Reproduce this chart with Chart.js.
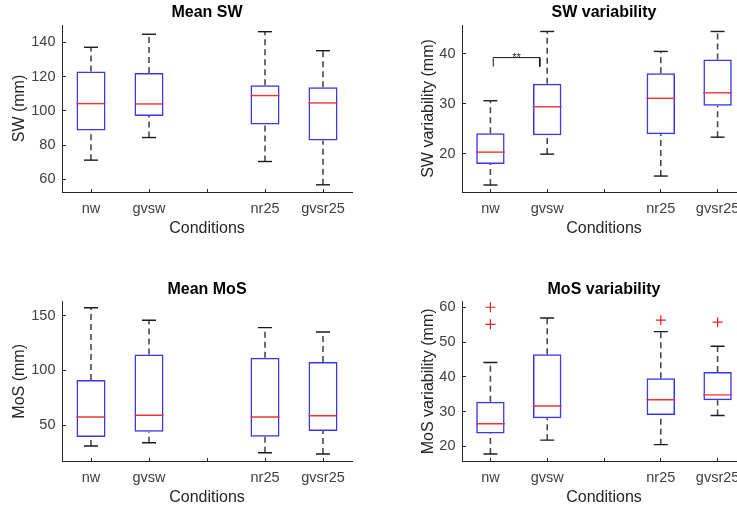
<!DOCTYPE html>
<html>
<head>
<title>Boxplots</title>
<style>
  html, body { margin: 0; padding: 0; background: #fff; overflow: hidden; width: 737px; height: 510px; }
  canvas { position: absolute; }
</style>
</head>
<body>
<canvas id="c1" width="365" height="250" style="left:0px;top:0px"></canvas>
<canvas id="c2" width="357" height="250" style="left:400px;top:0px"></canvas>
<canvas id="c3" width="365" height="260" style="left:0px;top:255px"></canvas>
<canvas id="c4" width="357" height="260" style="left:400px;top:255px"></canvas>

<script src="https://cdn.jsdelivr.net/npm/chart.js@4/dist/chart.umd.min.js"></script>
<script>
// x categories (3rd slot is an empty gap) and where the boxes sit
var conditions = ['nw', 'gvsw', '', 'nr25', 'gvsr25'];
var tickPos = [1, 2, 3, 4, 5];
var boxPos = [1, 2, 4, 5];

// Mean SW
var swMeanLow  = [71.2, 84.4, 70.4, 56.8];
var swMeanQ1   = [88.5, 96.9, 92.0, 82.6];
var swMeanMed  = [104.2, 104.0, 108.9, 104.6];
var swMeanQ3   = [122.9, 122.1, 114.9, 113.8];
var swMeanHigh = [137.1, 144.7, 146.2, 135.1];
var swMeanTicks = [60, 80, 100, 120, 140];

// SW variability
var swVarLow  = [13.7, 19.9, 15.5, 23.3];
var swVarQ1   = [17.9, 23.7, 23.9, 29.6];
var swVarMed  = [20.3, 29.4, 31.1, 32.2];
var swVarQ3   = [24.1, 34.0, 36.1, 38.9];
var swVarHigh = [30.6, 44.5, 40.5, 44.5];
var swVarTicks = [20, 30, 40];
var sigX = [1.05, 1.87];
var sigY = [37.45, 39.26];
var sigText = '**';

// Mean MoS
var mosMeanLow  = [30.8, 33.8, 24.7, 23.5];
var mosMeanQ1   = [39.0, 43.9, 39.3, 44.5];
var mosMeanMed  = [57.3, 58.9, 57.3, 58.5];
var mosMeanQ3   = [91.2, 114.4, 111.6, 107.7];
var mosMeanHigh = [157.3, 145.8, 139.1, 135.1];
var mosMeanTicks = [50, 100, 150];

// MoS variability
var mosVarLow  = [17.8, 21.8, 20.5, 28.9];
var mosVarQ1   = [23.7, 28.1, 29.0, 33.3];
var mosVarMed  = [26.5, 31.6, 33.4, 34.8];
var mosVarQ3   = [32.8, 46.5, 39.6, 41.4];
var mosVarHigh = [44.1, 56.9, 53.0, 48.8];
var mosVarOutX = [1, 1, 4, 5];
var mosVarOutY = [60.0, 55.1, 56.3, 55.7];
var mosVarTicks = [20, 30, 40, 50, 60];

Chart.defaults.font.family = '"Liberation Sans", Arial, sans-serif';

var axisColor = '#262626';
var textColor = '#404040';

// draws the "**" over the significance bracket
var sigLabel = {
    id: 'sigLabel',
    afterDatasetsDraw: function(chart, args, opts) {
        if (!opts.text) return;
        var ctx = chart.ctx;
        var x = chart.scales.x.getPixelForValue((opts.x[0] + opts.x[1]) / 2);
        var y = chart.scales.y.getPixelForValue(opts.y[1]);
        ctx.save();
        ctx.font = '11px "Liberation Sans", Arial, sans-serif';
        ctx.fillStyle = '#222';
        ctx.textAlign = 'center';
        ctx.textBaseline = 'alphabetic';
        ctx.fillText(opts.text, x, y + 3);
        ctx.restore();
    }
};

function boxChart(id, s) {
    var boxes = [], meds = [], caps = [], whiskers = [];
    for (var i = 0; i < boxPos.length; i++) {
        var p = boxPos[i];
        boxes.push({x: p, y: [s.q1[i], s.q3[i]]});
        meds.push({x: p, y: s.med[i]});
        caps.push({x: p, y: s.high[i]});
        caps.push({x: p, y: s.low[i]});
        whiskers.push({x: p, y: s.q3[i]}, {x: p, y: s.high[i]}, {x: p, y: null});
        whiskers.push({x: p, y: s.low[i]}, {x: p, y: s.q1[i]}, {x: p, y: null});
    }

    var datasets = [
        {type: 'scatter', data: meds, pointStyle: 'line', pointRadius: 14.5,
         borderColor: 'rgb(240,50,50)', borderWidth: 1.4, order: 1},
        {type: 'bar', data: boxes, backgroundColor: 'rgba(255,255,255,0)',
         borderColor: 'rgb(55,55,235)', borderWidth: 1.5, borderSkipped: false,
         barPercentage: 0.5, categoryPercentage: 1, order: 2},
        {type: 'scatter', data: caps, pointStyle: 'line', pointRadius: 7,
         borderColor: '#1a1a1a', borderWidth: 1.4, order: 3},
        {type: 'line', data: whiskers, borderColor: '#4a4a4a', borderWidth: 1.6,
         borderDash: [6, 4], pointRadius: 0, spanGaps: false, fill: false, order: 4}
    ];

    if (s.outX) {
        var outs = s.outX.map(function(x, i) { return {x: x, y: s.outY[i]}; });
        datasets.push({type: 'scatter', data: outs, pointStyle: 'cross', pointRadius: 5,
            borderColor: 'rgb(235,30,30)', borderWidth: 1.2, order: 0});
    }
    if (s.sigX) {
        datasets.push({type: 'line', order: 0, borderColor: '#111', borderWidth: 1, pointRadius: 0,
            data: [{x: s.sigX[0], y: s.sigY[0]}, {x: s.sigX[0], y: s.sigY[1]},
                   {x: s.sigX[1], y: s.sigY[1]}, {x: s.sigX[1], y: s.sigY[0]}]});
    }

    return new Chart(document.getElementById(id), {
        type: 'bar',
        data: {datasets: datasets},
        plugins: [sigLabel],
        options: {
            responsive: false,
            animation: false,
            events: [],
            layout: {autoPadding: false, padding: {left: 0, top: 0, right: s.padRight, bottom: s.padBottom}},
            plugins: {
                legend: {display: false},
                tooltip: {enabled: false},
                title: {
                    display: true, text: s.title, fullSize: false, color: '#000',
                    font: {size: 16, weight: 'bold'},
                    padding: {top: s.titleTop, bottom: 2.8}
                },
                sigLabel: {text: s.sigText, x: s.sigX, y: s.sigY}
            },
            scales: {
                x: {
                    type: 'linear', min: 0.5, max: 5.5, offset: false,
                    afterBuildTicks: function(sc) { sc.ticks = tickPos.map(function(v) { return {value: v}; }); },
                    afterFit: function(sc) { sc.height = 50; sc.paddingLeft = 0; sc.paddingRight = 0; },
                    ticks: {
                        callback: function(v, i) { return conditions[i]; },
                        font: {size: 14.5}, color: textColor, padding: 11.3,
                        maxRotation: 0, autoSkip: false
                    },
                    grid: {display: true, drawOnChartArea: false, offset: false, tickLength: -3, color: axisColor},
                    border: {display: true, color: axisColor, width: 1},
                    title: {display: true, text: 'Conditions', color: axisColor,
                            font: {size: 16}, padding: {top: 0, bottom: 3.4}}
                },
                y: {
                    min: s.yMin, max: s.yMax, beginAtZero: false,
                    afterBuildTicks: function(sc) { sc.ticks = s.yTicks.map(function(v) { return {value: v}; }); },
                    afterFit: function(sc) { sc.width = 62; sc.paddingTop = 0; sc.paddingBottom = 0; },
                    ticks: {font: {size: 14.5}, color: textColor, padding: 10.5},
                    grid: {display: true, drawOnChartArea: false, tickLength: -4, color: axisColor},
                    border: {display: true, color: axisColor, width: 1},
                    title: {display: true, text: s.yLabel, color: axisColor,
                            font: {size: 16}, padding: {top: s.yTitlePad, bottom: 0}}
                }
            }
        }
    });
}

boxChart('c1', {
    title: 'Mean SW', yLabel: 'SW (mm)', yMin: 52.6, yMax: 150.1, yTicks: swMeanTicks,
    low: swMeanLow, q1: swMeanQ1, med: swMeanMed, q3: swMeanQ3, high: swMeanHigh,
    padRight: 13, padBottom: 8, titleTop: 3, yTitlePad: 10.4
});
boxChart('c2', {
    title: 'SW variability', yLabel: 'SW variability (mm)', yMin: 12.3, yMax: 45.8, yTicks: swVarTicks,
    low: swVarLow, q1: swVarQ1, med: swVarMed, q3: swVarQ3, high: swVarHigh,
    sigX: sigX, sigY: sigY, sigText: sigText,
    padRight: 11, padBottom: 8, titleTop: 3, yTitlePad: 19.4
});
boxChart('c3', {
    title: 'Mean MoS', yLabel: 'MoS (mm)', yMin: 17.1, yMax: 162.8, yTicks: mosMeanTicks,
    low: mosMeanLow, q1: mosMeanQ1, med: mosMeanMed, q3: mosMeanQ3, high: mosMeanHigh,
    padRight: 13, padBottom: 4, titleTop: 24.7, yTitlePad: 10.4
});
boxChart('c4', {
    title: 'MoS variability', yLabel: 'MoS variability (mm)', yMin: 15.8, yMax: 61.6, yTicks: mosVarTicks,
    low: mosVarLow, q1: mosVarQ1, med: mosVarMed, q3: mosVarQ3, high: mosVarHigh,
    outX: mosVarOutX, outY: mosVarOutY,
    padRight: 11, padBottom: 4, titleTop: 24.7, yTitlePad: 19.4
});
</script>
</body>
</html>
